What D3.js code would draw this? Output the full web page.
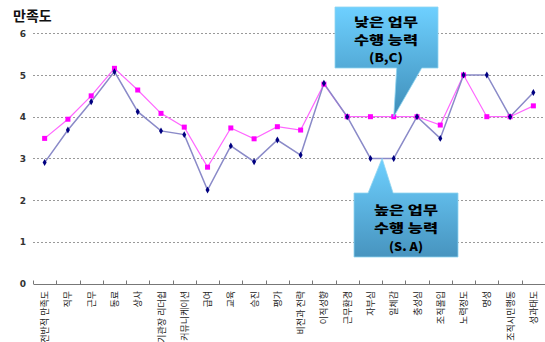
<!DOCTYPE html>
<html><head><meta charset="utf-8">
<script src="https://cdn.jsdelivr.net/npm/d3@7"></script>
<style>body{margin:0;background:#fff;}svg{display:block;}</style>
</head><body>
<script>
const categories = ["전반적 만족도","직무","근무","동료","상사","기관장 리더쉽","커뮤니케이션","급여","교육","승진","평가","비전과 전략","이직성향","근무환경","자부심","일체감","충성심","조직몰입","노력정도","명성","조직시민행동","성과태도"];
const lowBC = [3.48,3.94,4.50,5.16,4.64,4.08,3.75,2.79,3.73,3.47,3.76,3.68,4.78,4.0,4.0,4.0,4.0,3.80,5.0,4.0,4.0,4.26];
const highSA = [2.90,3.68,4.36,5.08,4.12,3.66,3.57,2.24,3.30,2.92,3.44,3.08,4.80,4.0,3.0,3.0,4.0,3.48,5.0,5.0,4.0,4.58];
const yTicks = [0,1,2,3,4,5,6];
const yTitle = "만족도";
const noteLow = ["낮은 업무","수행 능력","(B,C)"];
const noteHigh = ["높은 업무","수행 능력","(S. A)"];

const W=545,H=342;
const svg=d3.select("body").append("svg").attr("width",W).attr("height",H);
const font="'Noto Sans CJK KR','Noto Sans',sans-serif";
const x=d3.scaleBand().domain(categories).range([33,545]).padding(0);
const y=d3.scaleLinear().domain([0,6]).range([283.5,33.3]);
const cx=c=>x(c)+x.bandwidth()/2;

const defs=svg.append("defs");
const g1=defs.append("linearGradient").attr("id","gLow").attr("x1",0).attr("y1",0).attr("x2",0).attr("y2",1);
g1.append("stop").attr("offset","0%").attr("stop-color","#6ED0FF");
g1.append("stop").attr("offset","100%").attr("stop-color","#3E8DB8");
const g2=defs.append("linearGradient").attr("id","gHigh").attr("x1",0).attr("y1",0).attr("x2",0).attr("y2",1);
g2.append("stop").attr("offset","0%").attr("stop-color","#6ED0FF");
g2.append("stop").attr("offset","100%").attr("stop-color","#4794BF");

// title
svg.append("text").attr("x",13).attr("y",21).attr("font-family",font).attr("font-weight","bold")
  .attr("font-size",14).attr("fill","#111").text(yTitle);

// gridlines
svg.append("g").selectAll("line").data(yTicks.filter(d=>d>0)).join("line")
  .attr("x1",33).attr("x2",545).attr("y1",d=>Math.round(y(d))+0.5).attr("y2",d=>Math.round(y(d))+0.5)
  .attr("stroke","#999").attr("stroke-width",1).attr("stroke-dasharray","2,2");

// y tick labels
svg.append("g").selectAll("text").data(yTicks).join("text")
  .attr("x",26).attr("y",d=>y(d)+3.5).attr("text-anchor","end")
  .attr("font-family","'DejaVu Sans',sans-serif").attr("font-weight","bold").attr("font-size",9).attr("fill","#333")
  .text(d=>d);

// x axis
const xa=svg.append("g").attr("transform","translate(0,284)")
  .call(d3.axisBottom(x).tickSize(0).tickFormat(""));
xa.select(".domain").attr("stroke","#777");
svg.append("g").selectAll("line").data(categories.map(c=>x(c)).concat([545])).join("line")
  .attr("x1",d=>Math.round(d)+0.5).attr("x2",d=>Math.round(d)+0.5).attr("y1",280.5).attr("y2",284)
  .attr("stroke","#777");
svg.append("g").selectAll("text").data(categories).join("text")
  .attr("transform",d=>`translate(${cx(d)+3.5},291) rotate(-90)`)
  .attr("text-anchor","end").attr("font-family",font).attr("font-size",9).attr("fill","#222")
  .text(d=>d);

// lines
const line=(arr)=>d3.line().x((d,i)=>cx(categories[i])).y(d=>y(d))(arr);
svg.append("path").attr("d",line(lowBC)).attr("fill","none").attr("stroke","#FF66FF").attr("stroke-width",1.2);
svg.append("path").attr("d",line(highSA)).attr("fill","none").attr("stroke","#8A8AC8").attr("stroke-width",1.5);
svg.append("g").selectAll("rect").data(lowBC).join("rect")
  .attr("x",(d,i)=>cx(categories[i])-2.5).attr("y",d=>y(d)-2.5).attr("width",5).attr("height",5).attr("fill","#FF00FF");
svg.append("g").selectAll("path").data(highSA).join("path")
  .attr("d",d3.symbol(d3.symbolDiamond,14)).attr("transform",(d,i)=>`translate(${cx(categories[i])},${y(d)})`)
  .attr("fill","#000080");

function noteText(lines, xc, y0, dy){
  svg.append("g").selectAll("text").data(lines).join("text")
    .attr("x",xc).attr("y",(d,i)=>y0+i*dy).attr("text-anchor","middle")
    .attr("font-family",font).attr("font-weight",900).attr("font-size",12)
    .attr("textLength",(d,i)=>i<2?64:34).attr("lengthAdjust","spacingAndGlyphs")
    .attr("fill","#000").text(d=>d);
}
// callout low (above)
{
  const tx=cx(categories[15]), ty=y(4);
  const bx0=335,bx1=438,by0=7,by1=68;
  const p=`M${bx0},${by0}H${bx1}V${by1}H${tx+28}L${tx},${ty}L${tx+3},${by1}H${bx0}Z`;
  svg.append("path").attr("d",p).attr("fill","url(#gLow)").attr("stroke","#8fd4f0").attr("stroke-width",0.8);
  noteText(noteLow,386,27,17.5);
}
// callout high (below)
{
  const tx=(cx(categories[14])+cx(categories[15]))/2, ty=y(3);
  const bx0=354,bx1=458,by0=193,by1=257;
  const p=`M${bx0},${by0}H${tx-14}L${tx},${ty}L${tx+11},${by0}H${bx1}V${by1}H${bx0}Z`;
  svg.append("path").attr("d",p).attr("fill","url(#gHigh)").attr("stroke","#8fd4f0").attr("stroke-width",0.8);
  noteText(noteHigh,406,215,17.8);
}
</script>
</body></html>
